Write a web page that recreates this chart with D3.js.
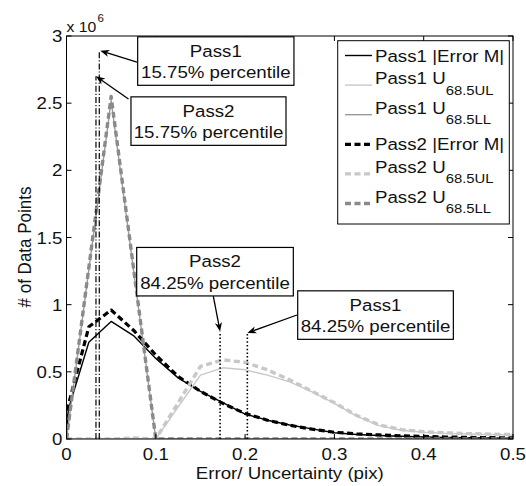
<!DOCTYPE html>
<html>
<head>
<meta charset="utf-8">
<script src="https://cdn.jsdelivr.net/npm/d3@7/dist/d3.min.js"></script>
<style>
  html, body { margin: 0; padding: 0; background: #fff; }
  svg { display: block; }
  text { font-family: "Liberation Sans", Arial, sans-serif; fill: #111; }
</style>
</head>
<body>
<svg id="chart" width="526" height="486"></svg>
<script>
// ---- data (counts in units of 10^6) ----
const xTicks = [0, 0.1, 0.2, 0.3, 0.4, 0.5];
const xTickLabels = ["0", "0.1", "0.2", "0.3", "0.4", "0.5"];
const yTicks = [0, 0.5, 1, 1.5, 2, 2.5, 3];
const yTickLabels = ["0", "0.5", "1", "1.5", "2", "2.5", "3"];

const errX = [0, 0.002, 0.025, 0.05, 0.075, 0.1, 0.125, 0.15, 0.175, 0.2, 0.225, 0.25, 0.275, 0.3, 0.325, 0.35, 0.375, 0.4, 0.425, 0.45, 0.475, 0.5];
const pass1Err = [0, 0.22, 0.72, 0.875, 0.77, 0.6, 0.455, 0.355, 0.27, 0.185, 0.14, 0.104, 0.075, 0.047, 0.034, 0.026, 0.02, 0.015, 0.012, 0.009, 0.007, 0.005];
const pass2Err = [0, 0.25, 0.835, 0.96, 0.81, 0.625, 0.465, 0.355, 0.265, 0.19, 0.14, 0.102, 0.073, 0.05, 0.038, 0.03, 0.024, 0.019, 0.015, 0.012, 0.01, 0.008];

const ulX = [0, 0.05, 0.075, 0.1, 0.15, 0.175, 0.2, 0.225, 0.25, 0.275, 0.3, 0.325, 0.35, 0.375, 0.4, 0.425, 0.45, 0.475, 0.5];
const pass1UL = [0, 0, 0.004, 0, 0.475, 0.53, 0.515, 0.475, 0.425, 0.35, 0.265, 0.17, 0.1, 0.065, 0.05, 0.042, 0.037, 0.033, 0.03];
const pass2UL = [0, 0, 0.008, 0, 0.54, 0.59, 0.57, 0.515, 0.44, 0.355, 0.27, 0.175, 0.105, 0.07, 0.054, 0.046, 0.04, 0.036, 0.033];

const llX = [0, 0.05, 0.1, 0.15, 0.2, 0.25, 0.3, 0.35, 0.4, 0.45, 0.5];
const pass1LL = [0, 2.52, 0, 0, 0, 0, 0, 0, 0, 0, 0];
const pass2LL = [0, 2.55, 0, 0, 0, 0, 0, 0, 0, 0, 0];

// percentile markers: Pass1 15.75%, Pass2 15.75%, Pass2 84.25%, Pass1 84.25%
const pctX = [0.0367, 0.033, 0.172, 0.2025];
const pctTop = [2.89, 2.70, 0.80, 0.79];
const pctText = [["Pass1", "15.75% percentile"], ["Pass2", "15.75% percentile"],
                 ["Pass2", "84.25% percentile"], ["Pass1", "84.25% percentile"]];

// ---- layout ----
const svg = d3.select("#chart");
const plot = { left: 66.5, right: 513, top: 36, bottom: 439 };
const x = d3.scaleLinear().domain([0, 0.5]).range([plot.left, plot.right]);
const y = d3.scaleLinear().domain([0, 3]).range([plot.bottom, plot.top]);
const FS = 17, SX = 1.1;   // font size, horizontal text stretch

function label(g, txt, px, py, anchor, size, sx) {
  return g.append("text")
    .attr("transform", `translate(${px},${py}) scale(${sx || SX},1)`)
    .attr("text-anchor", anchor || "start")
    .style("font-size", (size || FS) + "px")
    .text(txt);
}

const line = d3.line().x(d => x(d[0])).y(d => y(d[1]));
const zip = (xs, ys) => xs.map((v, i) => [v, ys[i]]);

const series = [
  { name: "Pass1 |Error M|", sub: null,     xs: errX, ys: pass1Err, color: "#000",    width: 1.4, dash: null },
  { name: "Pass1 U",         sub: "68.5UL", xs: ulX,  ys: pass1UL,  color: "#c8c8c8", width: 1.4, dash: null },
  { name: "Pass1 U",         sub: "68.5LL", xs: llX,  ys: pass1LL,  color: "#9a9a9a", width: 1.4, dash: null },
  { name: "Pass2 |Error M|", sub: null,     xs: errX, ys: pass2Err, color: "#000",    width: 3.2, dash: "6,3.5" },
  { name: "Pass2 U",         sub: "68.5UL", xs: ulX,  ys: pass2UL,  color: "#c8c8c8", width: 3.4, dash: "6,3.5" },
  { name: "Pass2 U",         sub: "68.5LL", xs: llX,  ys: pass2LL,  color: "#8a8a8a", width: 3.4, dash: "6,3.5" }
];

svg.append("defs").append("clipPath").attr("id", "plotclip")
  .append("rect").attr("x", plot.left).attr("y", plot.top)
  .attr("width", plot.right - plot.left).attr("height", plot.bottom - plot.top);

const curves = svg.append("g").attr("clip-path", "url(#plotclip)");
series.forEach(s => {
  curves.append("path")
    .attr("d", line(zip(s.xs, s.ys)))
    .attr("fill", "none")
    .attr("stroke", s.color)
    .attr("stroke-width", s.width)
    .attr("stroke-dasharray", s.dash)
    .attr("stroke-linejoin", "round");
});

// percentile lines
const pctDash = ["6,2,1.2,2", "6,2,1.2,2", "1.5,2.2", "1.5,2.2"];
const pctWidth = [1.2, 1.2, 1.6, 1.6];
pctX.forEach((v, i) => {
  curves.append("line")
    .attr("x1", x(v)).attr("x2", x(v))
    .attr("y1", y(0)).attr("y2", y(pctTop[i]))
    .attr("stroke", "#000").attr("stroke-width", pctWidth[i])
    .attr("stroke-dasharray", pctDash[i]);
});

// ---- axes box with inward ticks ----
const axes = svg.append("g");
axes.append("rect")
  .attr("x", plot.left).attr("y", plot.top)
  .attr("width", plot.right - plot.left).attr("height", plot.bottom - plot.top)
  .attr("fill", "none").attr("stroke", "#000").attr("stroke-width", 1);
const TL = 5;
xTicks.forEach((t, i) => {
  axes.append("line").attr("x1", x(t)).attr("x2", x(t)).attr("y1", plot.bottom).attr("y2", plot.bottom - TL).attr("stroke", "#000");
  axes.append("line").attr("x1", x(t)).attr("x2", x(t)).attr("y1", plot.top).attr("y2", plot.top + TL).attr("stroke", "#000");
  label(axes, xTickLabels[i], x(t), plot.bottom + 21, "middle");
});
yTicks.forEach((t, i) => {
  axes.append("line").attr("x1", plot.left).attr("x2", plot.left + TL).attr("y1", y(t)).attr("y2", y(t)).attr("stroke", "#000");
  axes.append("line").attr("x1", plot.right).attr("x2", plot.right - TL).attr("y1", y(t)).attr("y2", y(t)).attr("stroke", "#000");
  label(axes, yTickLabels[i], plot.left - 4, y(t) + 6, "end");
});
// exponent
label(axes, "x 10", plot.left, 31.5, "start", 15, 1.05);
label(axes, "6", plot.left + 31, 22, "start", 11, 1.05);

// axis titles
label(svg, "Error/ Uncertainty (pix)", (plot.left + plot.right) / 2, 478.5, "middle");
svg.append("text")
  .attr("transform", `translate(31,247) rotate(-90) scale(1,${SX})`)
  .attr("text-anchor", "middle")
  .style("font-size", FS + "px")
  .text("# of Data Points");

// ---- annotations: boxed text with arrows to the percentile lines ----
const boxes = [
  { x0: 0.0797, x1: 0.2547, top: 2.994, tail: [0.0789, 2.806] },
  { x0: 0.0722, x1: 0.2458, top: 2.547, tail: [0.0694, 2.531] },
  { x0: 0.0786, x1: 0.2540, top: 1.426, tail: [0.1644, 1.064] },
  { x0: 0.2589, x1: 0.4332, top: 1.103, tail: [0.2581, 0.923] }
];
const BOXH = 48.5;
const ann = svg.append("g");
boxes.forEach((b, i) => {
  const bx = x(b.x0), bw = x(b.x1) - x(b.x0), by = y(b.top);
  ann.append("rect").attr("x", bx).attr("y", by).attr("width", bw).attr("height", BOXH)
    .attr("fill", "#fff").attr("stroke", "#000").attr("stroke-width", 1.2);
  label(ann, pctText[i][0], bx + bw / 2, by + 20, "middle");
  label(ann, pctText[i][1], bx + bw / 2, by + 41.5, "middle");

  // arrow from box to top of percentile line
  const tx = x(b.tail[0]), ty = y(b.tail[1]);
  const hx = x(pctX[i]) + (i === 0 ? 1 : 0), hy = y(pctTop[i]);
  const ang = Math.atan2(hy - ty, hx - tx);
  const L = 9, Wd = 3.6, back = 6.5;
  const ux = Math.cos(ang), uy = Math.sin(ang);
  ann.append("line").attr("x1", tx).attr("y1", ty)
    .attr("x2", hx - ux * back).attr("y2", hy - uy * back)
    .attr("stroke", "#000").attr("stroke-width", 1.3);
  const pts = [
    [hx, hy],
    [hx - ux * L - uy * Wd, hy - uy * L + ux * Wd],
    [hx - ux * back, hy - uy * back],
    [hx - ux * L + uy * Wd, hy - uy * L - ux * Wd]
  ];
  ann.append("path").attr("d", "M" + pts.map(p => p.join(",")).join("L") + "Z").attr("fill", "#000");
});

// ---- legend ----
const lg = svg.append("g");
lg.append("rect").attr("x", 337.7).attr("y", 40.7).attr("width", 171.6).attr("height", 183.3)
  .attr("fill", "#fff").attr("stroke", "#000").attr("stroke-width", 1);
series.forEach((s, i) => {
  const ly = 55.5 + 29.6 * i;
  lg.append("line").attr("x1", 345).attr("x2", 372).attr("y1", ly).attr("y2", ly)
    .attr("stroke", s.color).attr("stroke-width", s.width).attr("stroke-dasharray", s.dash);
  if (s.sub) {
    const t = lg.append("text")
      .attr("transform", `translate(375,${ly - 1}) scale(${SX},1)`)
      .style("font-size", FS + "px");
    t.append("tspan").text(s.name);
    t.append("tspan").attr("dy", 10.5).style("font-size", "13.5px").text(s.sub);
  } else {
    label(lg, s.name, 375, ly + 6);
  }
});
</script>
</body>
</html>
